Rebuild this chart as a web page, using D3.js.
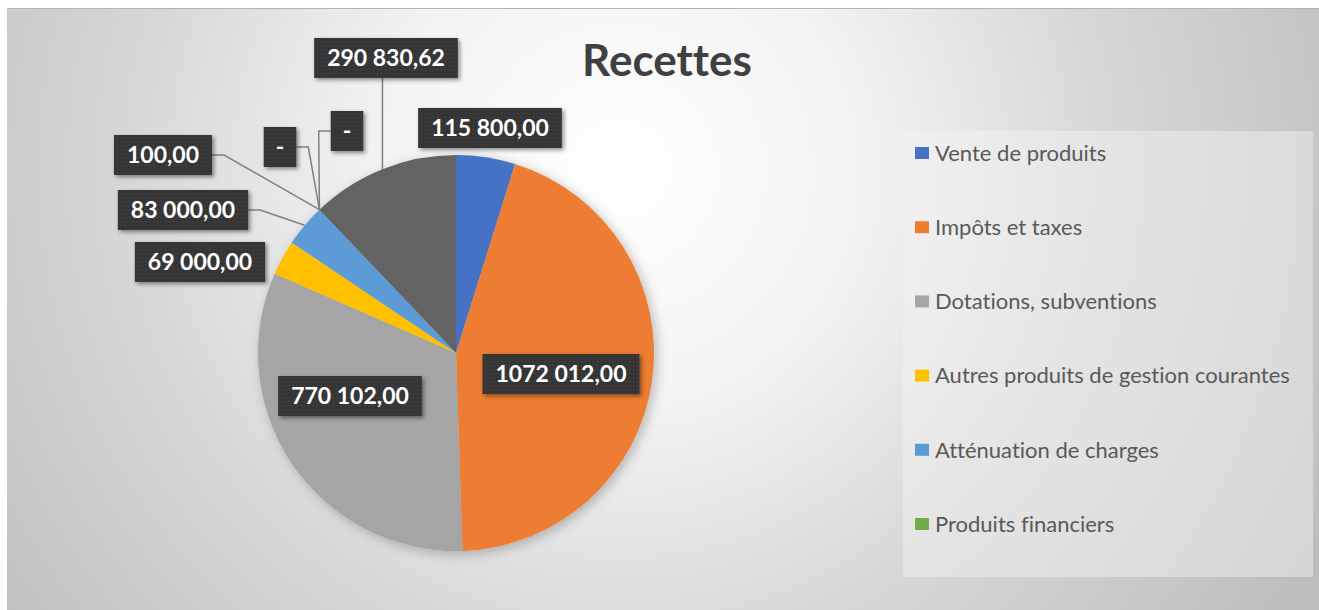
<!DOCTYPE html>
<html>
<head>
<meta charset="utf-8">
<script src="https://cdn.jsdelivr.net/npm/d3@7"></script>
<style>
  html, body { margin: 0; padding: 0; background: #ffffff; }
  svg { display: block; }
  text { font-variant-ligatures: none; font-feature-settings: "liga" 0, "clig" 0; }
</style>
</head>
<body>
<svg id="chart" width="1319" height="610"></svg>
<script>
// ---------------- data ----------------
const categories = [
  "Vente de produits",
  "Impôts et taxes",
  "Dotations, subventions",
  "Autres produits de gestion courantes",
  "Atténuation de charges",
  "Produits financiers",
  "Catégorie 7",
  "Catégorie 8",
  "Catégorie 9"
];
const values = [115800, 1072012, 770102, 69000, 83000, 100, 0, 0, 290830.62];
const labelTexts = ["115 800,00", "1072 012,00", "770 102,00", "69 000,00", "83 000,00", "100,00", "-", "-", "290 830,62"];
const colors = ["#4472C4", "#ED7D31", "#A5A5A5", "#FFC000", "#5B9BD5", "#70AD47", "#264478", "#9E480E", "#636363"];
const legendCount = 6; // the legend only shows the first six entries
const title = "Recettes";

// ---------------- layout (positions/styles) ----------------
const W = 1319, H = 610;
const cx = 456, cy = 353, R = 198;
// label box centres and leader style
const labelLayout = [
  { x: 490, y: 128, leader: "none" },
  { x: 561, y: 374, leader: "none" },
  { x: 350, y: 396, leader: "none" },
  { x: 200, y: 262, leader: "none" },
  { x: 183, y: 210, leader: "right" },
  { x: 163, y: 155, leader: "right" },
  { x: 280, y: 147, leader: "right" },
  { x: 347, y: 131, leader: "left" },
  { x: 386, y: 58,  leader: "down" }
];

const svg = d3.select("#chart");
const defs = svg.append("defs");

const bg = defs.append("radialGradient")
  .attr("id", "bg").attr("gradientUnits", "userSpaceOnUse")
  .attr("cx", 620).attr("cy", 170).attr("r", 800);
[[0, "#ffffff"], [0.3, "#f3f3f3"], [0.6, "#d8d8d8"], [1, "#bdbdbd"]].forEach(s =>
  bg.append("stop").attr("offset", s[0]).attr("stop-color", s[1]));

const pat = defs.append("pattern").attr("id", "dots")
  .attr("patternUnits", "userSpaceOnUse").attr("width", 4).attr("height", 4);
pat.append("rect").attr("width", 4).attr("height", 4).attr("fill", "#363636");
pat.append("rect").attr("x", 1).attr("y", 1).attr("width", 1).attr("height", 1).attr("fill", "#4d4d4d");

const sh = defs.append("filter").attr("id", "shadow")
  .attr("x", "-20%").attr("y", "-20%").attr("width", "150%").attr("height", "150%");
sh.append("feDropShadow").attr("dx", 2).attr("dy", 2).attr("stdDeviation", 2)
  .attr("flood-color", "#000").attr("flood-opacity", 0.45);

const psh = defs.append("filter").attr("id", "pieshadow")
  .attr("x", "-20%").attr("y", "-20%").attr("width", "140%").attr("height", "140%");
psh.append("feDropShadow").attr("dx", 3).attr("dy", 3).attr("stdDeviation", 6)
  .attr("flood-color", "#000").attr("flood-opacity", 0.25);

// background
svg.append("rect").attr("x", 7).attr("y", 8).attr("width", W - 7).attr("height", H - 8)
  .attr("fill", "url(#bg)");
svg.append("line").attr("x1", 7).attr("x2", W).attr("y1", 8.5).attr("y2", 8.5)
  .attr("stroke", "#b4b4b4").attr("stroke-width", 1);

// title
svg.append("text").attr("x", 667).attr("y", 76)
  .attr("text-anchor", "middle")
  .attr("font-family", "Lato, 'Open Sans', sans-serif")
  .attr("font-weight", "bold").attr("font-size", 44)
  .attr("fill", "#404040").text(title);

// legend
const lg = svg.append("g");
lg.append("rect").attr("x", 903).attr("y", 131).attr("width", 410).attr("height", 446)
  .attr("fill", "#f4f4f4").attr("fill-opacity", 0.45);
const legendY = d3.scalePoint().domain(d3.range(legendCount)).range([153, 524]);
const items = lg.selectAll("g.item").data(d3.range(legendCount)).join("g")
  .attr("transform", i => `translate(915,${legendY(i)})`);
items.append("rect").attr("x", 0).attr("y", -6).attr("width", 14).attr("height", 12)
  .attr("fill", i => colors[i]);
items.append("text").attr("x", 20).attr("y", 0).attr("dy", "0.35em")
  .attr("font-family", "Lato, 'Open Sans', sans-serif").attr("font-size", 22)
  .attr("fill", "#595959").text(i => categories[i]);

// pie
const pie = d3.pie().sort(null).value(d => d.value);
const data = categories.map((c, i) => ({ name: c, value: values[i], color: colors[i], label: labelTexts[i], lay: labelLayout[i] }));
const arcs = pie(data);
const arc = d3.arc().innerRadius(0).outerRadius(R);
const g = svg.append("g").attr("transform", `translate(${cx},${cy})`);
g.append("g").attr("filter", "url(#pieshadow)")
  .selectAll("path").data(arcs).join("path")
  .attr("d", arc).attr("fill", d => d.data.color);

// leader lines
const leaders = svg.append("g").attr("fill", "none").attr("stroke", "#808080").attr("stroke-width", 1.5);
const boxes = svg.append("g");

arcs.forEach((a, i) => {
  const lay = a.data.lay;
  const t = boxes.append("text")
    .attr("x", lay.x).attr("y", lay.y).attr("dy", "0.36em")
    .attr("text-anchor", "middle")
    .attr("font-family", "Lato, 'Open Sans', sans-serif")
    .attr("font-weight", "bold").attr("font-size", 23)
    .attr("fill", "#ffffff").text(a.data.label);
  const bb = t.node().getBBox();
  const padX = a.data.label === "-" ? 12 : 13;
  const bw = bb.width + 2 * padX, bh = 40;
  const bx = lay.x - bw / 2, by = lay.y - bh / 2;
  boxes.insert("rect", () => t.node())
    .attr("x", bx).attr("y", by).attr("width", bw).attr("height", bh)
    .attr("fill", "url(#dots)").attr("filter", "url(#shadow)");

  const mid = (a.startAngle + a.endAngle) / 2;
  const ax = cx + R * Math.sin(mid), ay = cy - R * Math.cos(mid);
  let pts = null;
  if (lay.leader === "right") {
    pts = [[bx + bw, lay.y], [bx + bw + 12, lay.y], [ax, ay]];
  } else if (lay.leader === "left") {
    pts = [[bx, lay.y], [bx - 12, lay.y], [ax, ay]];
  } else if (lay.leader === "down") {
    pts = [[ax, by + bh], [ax, ay]];
  }
  if (pts) leaders.append("path").attr("d", d3.line()(pts));
});
</script>
</body>
</html>
